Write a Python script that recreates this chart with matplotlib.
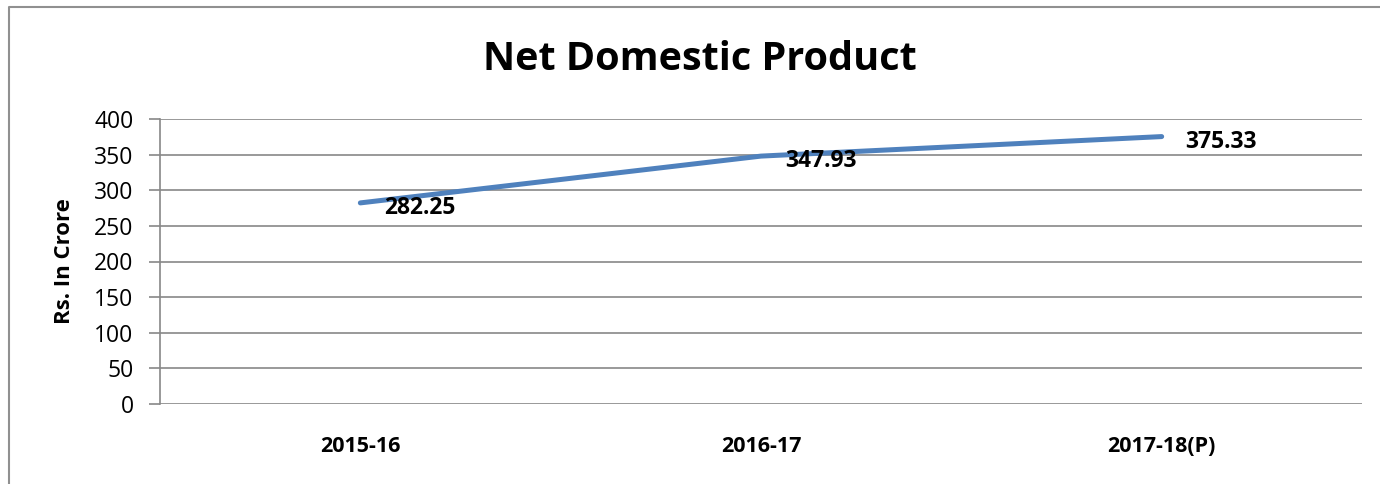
import matplotlib.pyplot as plt
from matplotlib.lines import Line2D

### DATA ###

years = ["2015-16", "2016-17", "2017-18(P)"]
ndp = [282.25, 347.93, 375.33]
yticks = [0, 50, 100, 150, 200, 250, 300, 350, 400]

plt.rcParams['font.family'] = ['Open Sans', 'DejaVu Sans']

fig = plt.figure(figsize=(13.8, 4.84), dpi=100)
ax = fig.add_axes([160 / 1380, 1 - 404 / 484, 1202 / 1380, 285 / 484])

x = list(range(len(years)))
ax.plot(x, ndp, color="#4F81BD", linewidth=3.6, solid_capstyle="round")

for xi, v in zip(x, ndp):
    ax.annotate(f"{v:.2f}", (xi, v), xytext=(24, -5), textcoords="offset pixels",
                ha="left", va="center", fontsize=16.5, fontweight="bold")

ax.set_xlim(-0.5, len(years) - 0.5)
ax.set_ylim(0, 400)
ax.set_yticks(yticks)
ax.set_xticks(x)
ax.set_xticklabels(years, fontsize=15.5, fontweight="bold")
ax.tick_params(axis="x", length=0, pad=23)
ax.tick_params(axis="y", length=8, width=1.2, color="#888888", labelsize=16.5, pad=11)

# Gridlines
ax.grid(axis="y", color="#888888", linewidth=1.2)
ax.set_axisbelow(True)

for s in ["top", "right", "bottom"]:
    ax.spines[s].set_visible(False)
ax.spines["left"].set_color("#888888")
ax.spines["left"].set_linewidth(1.2)

ax.set_ylabel("Rs. In Crore", fontsize=16, fontweight="bold", labelpad=14)
fig.text(700 / 1380, 1 - 59 / 484, "Net Domestic Product", ha="center", va="center",
         fontsize=28.5, fontweight="bold")

# outer frame (left + top)
fig.add_artist(Line2D([9 / 1380, 9 / 1380, 1], [0, 1 - 7 / 484, 1 - 7 / 484],
                      transform=fig.transFigure, color="#909090", linewidth=1.5))

plt.savefig("out.png", dpi=100)
plt.close()
